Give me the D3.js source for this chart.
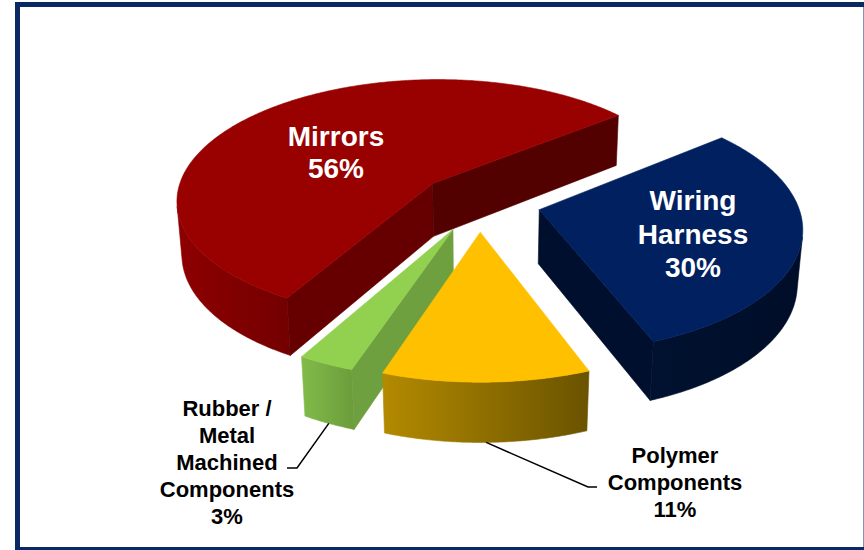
<!DOCTYPE html>
<html>
<head>
<meta charset="utf-8">
<script src="https://cdn.jsdelivr.net/npm/d3@7"></script>
<style>
  html, body { margin: 0; padding: 0; background: #ffffff; }
  svg { display: block; }
  text { font-family: "Liberation Sans", Arial, sans-serif; font-weight: bold; }
</style>
</head>
<body>
<svg id="chart" width="864" height="550"></svg>
<script>
// ---- data ----
const categories = ["Mirrors", "Wiring Harness", "Polymer Components", "Rubber / Metal Machined Components"];
const shares = [56, 30, 11, 3];
const labelNameLines = [["Mirrors"], ["Wiring", "Harness"], ["Polymer", "Components"], ["Rubber /", "Metal", "Machined", "Components"]];

// ---- styles ----
const topColors   = ["#990000", "#002060", "#ffc000", "#92d050"];
const wallColors  = [["#8e0000", "#730000"], ["#001230", "#000d28"], ["#b38a00", "#6a5300"], ["#82bb49", "#6b9c3b"]];
const sideColors  = [["#660000", "#530000"], ["#000f2d", "#000f2d"], ["#7a5e00", "#7a5e00"], ["#6fa03f", "#6fa03f"]];
const labelColors = ["#ffffff", "#ffffff", "#000000", "#000000"];

// ---- 3D view ----
const cx = 479, cy = 202;              // screen position of the pie centre
const tilt = 28.2 * Math.PI / 180;     // elevation of the eye
const sinP = Math.sin(tilt), cosP = Math.cos(tilt);
const dist = 6.78;                     // eye distance in pie radii
const focal = 1749;
const explode = 0.24;                  // slice offset in pie radii
const thick = 0.24;                    // slab height in pie radii
const startDeg = 209.5;

function project(X, Y, Z) {
  const D = dist - Y * sinP - Z * cosP;
  return [cx + focal * X / D, cy - focal * (Y * cosP - Z * sinP) / D];
}
const eye = [0, dist * sinP, dist * cosP];
function facesEye(n, p) {
  return n[0] * (eye[0] - p[0]) + n[1] * (eye[1] - p[1]) + n[2] * (eye[2] - p[2]) > 0;
}

const svg = d3.select("#chart");
const defs = svg.append("defs");

const pie = d3.pie().value(d => d).sort(null)
  .startAngle(startDeg * Math.PI / 180)
  .endAngle(startDeg * Math.PI / 180 + 2 * Math.PI);
const arcs = pie(shares);

const slices = arcs.map((a, i) => {
  const mid = (a.startAngle + a.endAngle) / 2;
  const ox = explode * Math.sin(mid), oz = -explode * Math.cos(mid);
  const rim = (t, Y) => [ox + Math.sin(t), Y, oz - Math.cos(t)];
  return { i, a, mid, ox, oz, rim, depth: dist - oz * cosP };
});

const line = d3.line();
const step = 0.5 * Math.PI / 180;

// farthest slice first
slices.slice().sort((p, q) => q.depth - p.depth).forEach(s => {
  const g = svg.append("g").attr("class", "slice");
  const { a, ox, oz, rim, i } = s;
  const n = Math.max(2, Math.ceil((a.endAngle - a.startAngle) / step));
  const ts = d3.range(n + 1).map(k => a.startAngle + (a.endAngle - a.startAngle) * k / n);

  // visible part of the curved outer wall
  const runs = [];
  let cur = null;
  ts.forEach(t => {
    const p = rim(t, -thick / 2);
    const vis = facesEye([Math.sin(t), 0, -Math.cos(t)], p);
    if (vis) { if (!cur) { cur = []; runs.push(cur); } cur.push(t); }
    else cur = null;
  });
  runs.forEach((run, r) => {
    if (run.length < 2) return;
    const topPts = run.map(t => project(...rim(t, 0)));
    const botPts = run.map(t => project(...rim(t, -thick))).reverse();
    const pts = topPts.concat(botPts);
    const xs = pts.map(p => p[0]);
    const id = `wall-${i}-${r}`;
    const grad = defs.append("linearGradient").attr("id", id)
      .attr("gradientUnits", "userSpaceOnUse")
      .attr("x1", d3.min(xs)).attr("x2", d3.max(xs)).attr("y1", 0).attr("y2", 0);
    grad.append("stop").attr("offset", 0).attr("stop-color", wallColors[i][0]);
    grad.append("stop").attr("offset", 1).attr("stop-color", wallColors[i][1]);
    g.append("path").attr("d", line(pts) + "Z").attr("fill", `url(#${id})`)
      .attr("stroke", `url(#${id})`).attr("stroke-width", 0.6);
  });

  // radial cut faces
  [[a.startAngle, a.startAngle - Math.PI / 2, 0], [a.endAngle, a.endAngle + Math.PI / 2, 1]].forEach(([t, nt, k]) => {
    const e0 = rim(t, 0);
    const mid = [(ox + e0[0]) / 2, -thick / 2, (oz + e0[2]) / 2];
    if (!facesEye([Math.sin(nt), 0, -Math.cos(nt)], mid)) return;
    const pts = [project(ox, 0, oz), project(...rim(t, 0)), project(...rim(t, -thick)), project(ox, -thick, oz)];
    g.append("path").attr("d", line(pts) + "Z").attr("fill", sideColors[i][k])
      .attr("stroke", sideColors[i][k]).attr("stroke-width", 0.6);
  });

  // top face
  const topFace = [project(ox, 0, oz)].concat(ts.map(t => project(...rim(t, 0))));
  g.append("path").attr("d", line(topFace) + "Z").attr("fill", topColors[i])
    .attr("stroke", topColors[i]).attr("stroke-width", 0.6);
});

// ---- labels ----
const labelSpecs = [
  { x: 336, y: 146, size: 28, gap: 32 },
  { x: 693, y: 210, size: 28, gap: 33.5 },
  { x: 675, y: 463, size: 22, gap: 27 },
  { x: 227, y: 416, size: 22, gap: 27 }
];
labelSpecs.forEach((spec, i) => {
  const lines = labelNameLines[i].concat([`${shares[i]}%`]);
  const t = svg.append("text").attr("text-anchor", "middle")
    .attr("font-size", spec.size).attr("fill", labelColors[i]);
  lines.forEach((ln, k) => {
    t.append("tspan").attr("x", spec.x).attr("y", spec.y + k * spec.gap).text(ln);
  });
});

// leader lines from the wall bottom of the small slices
const leaders = [
  { i: 2, elbow: [588, 487], end: [597, 487] },
  { i: 3, elbow: [297, 468], end: [287, 468] }
];
leaders.forEach(l => {
  const s = slices[l.i];
  const start = project(...s.rim(s.mid, -thick));
  svg.append("path").attr("d", line([start, l.elbow, l.end]))
    .attr("fill", "none").attr("stroke", "#000000").attr("stroke-width", 1.5);
});

// ---- frame ----
svg.append("rect").attr("x", 17.5).attr("y", 4.5).attr("width", 848.5).attr("height", 545)
  .attr("fill", "none").attr("stroke", "#0a2864").attr("stroke-width", 5);
</script>
</body>
</html>
